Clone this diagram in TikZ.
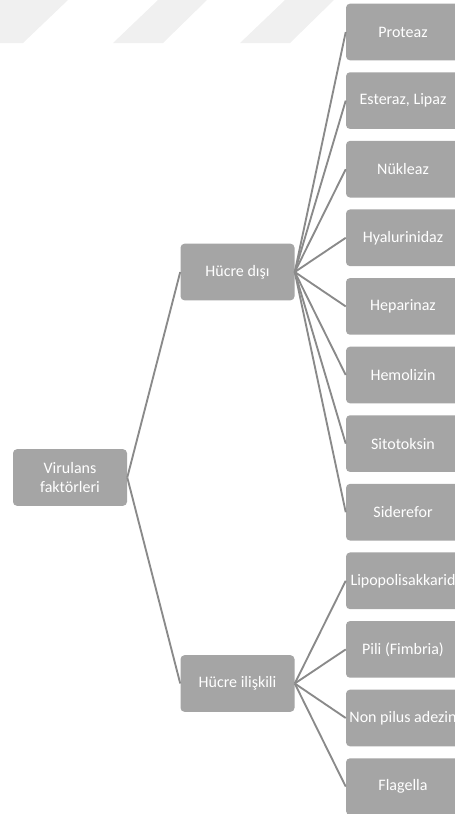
\documentclass[tikz,border=0pt]{standalone}
\usepackage{fontspec}
\setmainfont{Carlito}
\usepackage{xcolor}
\definecolor{boxgray}{HTML}{A5A5A5}
\definecolor{linegray}{HTML}{8A8A8A}
\definecolor{markgray}{HTML}{F0F0F0}
\tikzset{
  item/.style={fill=boxgray, text=white, rounded corners=3pt, inner sep=0pt,
    minimum width=85.5pt, minimum height=42.5pt, align=center,
    font=\fontsize{12}{14}\selectfont},
  link/.style={draw=linegray, line width=1.4pt}
}

\begin{document}
\begin{tikzpicture}[x=0.75pt,y=-0.75pt]
\useasboundingbox (0,0) rectangle (454,814);
% faint stripes at the top
\fill[markgray] (0,0) -- (68,0) -- (23,43) -- (0,43) -- cycle;
\fill[markgray] (158,0) -- (207,0) -- (163,43) -- (113,43) -- cycle;
\fill[markgray] (285,0) -- (334,0) -- (290,43) -- (240,43) -- cycle;

\node[item] (root) at (70,477.5) {Virulans\\faktörleri};
\node[item] (disi) at (237.5,272) {Hücre dışı};
\node[item] (iliskili) at (237.5,683.5) {Hücre ilişkili};

\node[item] (proteaz) at (403,32) {Proteaz};
\node[item] (esteraz) at (403,100.6) {Esteraz, Lipaz};
\node[item] (nukleaz) at (403,169.2) {Nükleaz};
\node[item] (hyal) at (403,237.8) {Hyalurinidaz};
\node[item] (hepar) at (403,306.4) {Heparinaz};
\node[item] (hemol) at (403,375) {Hemolizin};
\node[item] (sitot) at (403,443.6) {Sitotoksin};
\node[item] (sider) at (403,512.2) {Siderefor};
\node[item] (lipo) at (403,580.8) {Lipopolisakkarid};
\node[item] (pili) at (403,649.4) {Pili (Fimbria)};
\node[item] (nonpilus) at (403,718) {Non pilus adezin};
\node[item] (flag) at (403,786.6) {Flagella};

\draw[link] (root.east) -- (disi.west);
\draw[link] (root.east) -- (iliskili.west);

\draw[link] (disi.east) -- (proteaz.west);
\draw[link] (disi.east) -- (esteraz.west);
\draw[link] (disi.east) -- (nukleaz.west);
\draw[link] (disi.east) -- (hyal.west);
\draw[link] (disi.east) -- (hepar.west);
\draw[link] (disi.east) -- (hemol.west);
\draw[link] (disi.east) -- (sitot.west);
\draw[link] (disi.east) -- (sider.west);

\draw[link] (iliskili.east) -- (lipo.west);
\draw[link] (iliskili.east) -- (pili.west);
\draw[link] (iliskili.east) -- (nonpilus.west);
\draw[link] (iliskili.east) -- (flag.west);
\end{tikzpicture}
\end{document}
